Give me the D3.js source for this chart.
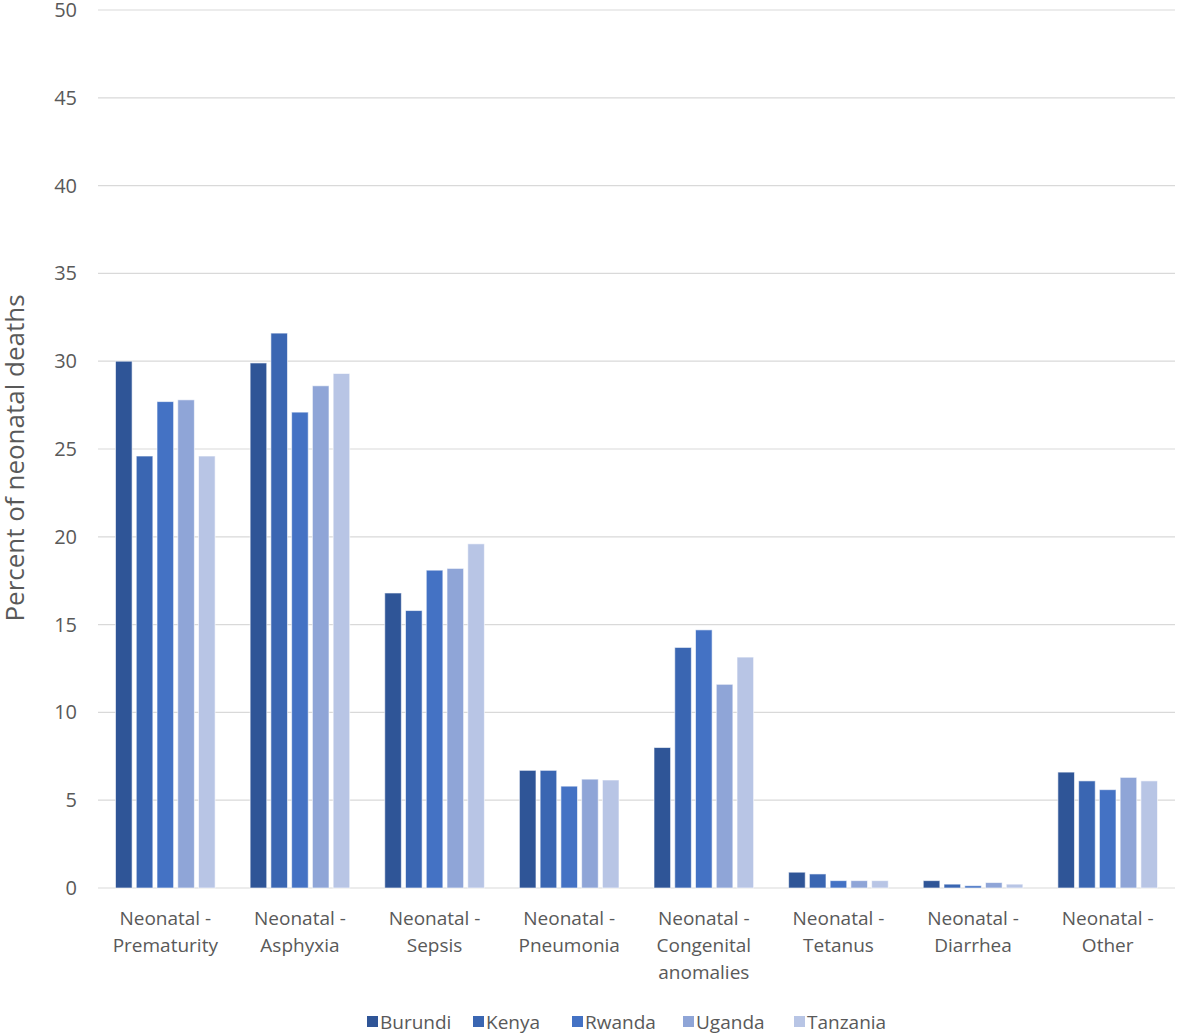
<!DOCTYPE html>
<html>
<head>
<meta charset="utf-8">
<script src="https://cdn.jsdelivr.net/npm/d3@7"></script>
<style>
  body { margin: 0; background: #fff; }
  text { font-family: "Open Sans", Lato, sans-serif; fill: #595959; }
</style>
</head>
<body>
<div id="chart"></div>
<script>
// Data
const categories = [
    ["Neonatal -", "Prematurity"],
    ["Neonatal -", "Asphyxia"],
    ["Neonatal -", "Sepsis"],
    ["Neonatal -", "Pneumonia"],
    ["Neonatal -", "Congenital", "anomalies"],
    ["Neonatal -", "Tetanus"],
    ["Neonatal -", "Diarrhea"],
    ["Neonatal -", "Other"]
];
const countries = ["Burundi", "Kenya", "Rwanda", "Uganda", "Tanzania"];
const burundi  = [30.0, 29.9, 16.8, 6.7, 8.0, 0.9, 0.42, 6.6];
const kenya    = [24.6, 31.6, 15.8, 6.7, 13.7, 0.8, 0.22, 6.1];
const rwanda   = [27.7, 27.1, 18.1, 5.8, 14.7, 0.42, 0.13, 5.6];
const uganda   = [27.8, 28.6, 18.2, 6.2, 11.6, 0.42, 0.31, 6.3];
const tanzania = [24.6, 29.3, 19.6, 6.15, 13.15, 0.42, 0.22, 6.1];
const yTicks = [0, 5, 10, 15, 20, 25, 30, 35, 40, 45, 50];

const seriesValues = [burundi, kenya, rwanda, uganda, tanzania];
const colors = ["#2f5597", "#3a66b2", "#4472c4", "#8fa5d7", "#b8c5e5"];

const width = 1181, height = 1036;
const margin = { top: 10, right: 6, bottom: 148, left: 98 };
const innerW = width - margin.left - margin.right;
const innerH = height - margin.top - margin.bottom;

const svg = d3.select("#chart").append("svg")
    .attr("width", width)
    .attr("height", height);

const g = svg.append("g").attr("transform", `translate(${margin.left},${margin.top})`);

const x = d3.scaleBand().domain(d3.range(categories.length)).range([0, innerW]).paddingInner(0.26).paddingOuter(0.13);
const xs = d3.scaleBand().domain(countries).range([0, x.bandwidth()]).paddingInner(0.2);
const y = d3.scaleLinear().domain([0, 50]).range([innerH, 0]);

// gridlines
g.append("g")
    .selectAll("line")
    .data(yTicks)
    .enter().append("line")
    .attr("x1", 0).attr("x2", innerW)
    .attr("y1", d => y(d)).attr("y2", d => y(d))
    .attr("stroke", "#d9d9d9")
    .attr("stroke-width", 1.2);

// y tick labels
const yAxis = g.append("g")
    .call(d3.axisLeft(y).tickValues(yTicks).tickSize(0).tickPadding(21));
yAxis.select(".domain").remove();
yAxis.selectAll("text")
    .style("font-size", "20px")
    .style("font-family", "'Open Sans', sans-serif")
    .attr("fill", "#595959");

// bars
countries.forEach((c, i) => {
    g.append("g")
        .selectAll("rect")
        .data(seriesValues[i])
        .enter().append("rect")
        .attr("x", (d, j) => x(j) + xs(c))
        .attr("y", d => y(d))
        .attr("width", xs.bandwidth())
        .attr("height", d => innerH - y(d))
        .attr("fill", colors[i])
        .attr("stroke", "#ffffff")
        .attr("stroke-opacity", 0.6)
        .attr("stroke-width", 1);
});

// x category labels
const xl = g.append("g").attr("transform", `translate(0,${innerH})`);
categories.forEach((lines, j) => {
    const t = xl.append("text")
        .attr("x", x(j) + x.bandwidth() / 2)
        .attr("y", 37)
        .attr("text-anchor", "middle")
        .style("font-size", "19px");
    lines.forEach((ln, k) => {
        t.append("tspan")
            .attr("x", x(j) + x.bandwidth() / 2)
            .attr("dy", k === 0 ? 0 : 27)
            .text(ln);
    });
});

// y axis title
svg.append("text")
    .attr("transform", `translate(24,458) rotate(-90)`)
    .attr("text-anchor", "middle")
    .style("font-size", "26px")
    .text("Percent of neonatal deaths");

// legend
const legendX = [367, 473, 572, 683, 794];
const legend = svg.append("g").attr("transform", "translate(0,1022)");
countries.forEach((c, i) => {
    legend.append("rect")
        .attr("x", legendX[i]).attr("y", -6)
        .attr("width", 11).attr("height", 11)
        .attr("fill", colors[i]);
    legend.append("text")
        .attr("x", legendX[i] + 13).attr("y", 0)
        .attr("dy", "0.35em")
        .style("font-size", "19px")
        .text(c);
});
</script>
</body>
</html>
